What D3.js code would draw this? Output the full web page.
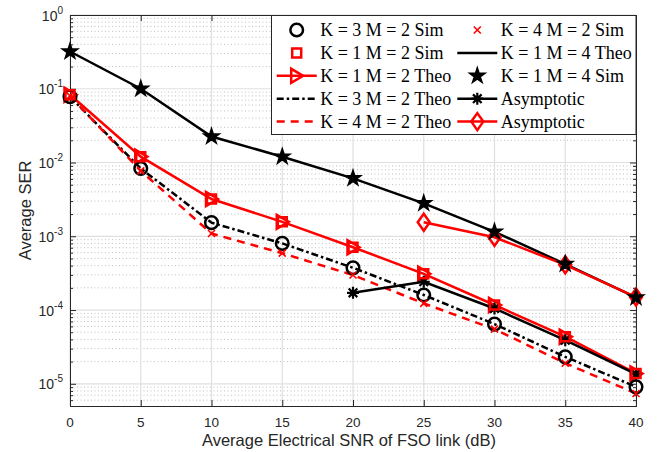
<!DOCTYPE html>
<html>
<head>
<meta charset="utf-8">
<script src="https://cdn.jsdelivr.net/npm/d3@7"></script>
<style>
  body { margin: 0; background: white; overflow: hidden; }
  svg { display: block; }
</style>
</head>
<body>
<div id="plot"></div>
<script>
// data
var snr = [0, 5, 10, 15, 20, 25, 30, 35, 40];
var k1m4Theo = [0.32, 0.10, 0.0225, 0.012, 0.0061, 0.0028, 0.00115, 4.2e-4, 1.48e-4];
var k1m4Sim  = [0.32, 0.10, 0.0225, 0.012, 0.0061, 0.0028, 0.00115, 4.2e-4, 1.48e-4];
var k1m2Theo = [0.083, 0.012, 0.0032, 0.00157, 7.1e-4, 3.1e-4, 1.17e-4, 4.35e-5, 1.38e-5];
var k1m2Sim  = [0.083, 0.012, 0.0032, 0.00157, 7.1e-4, 3.1e-4, 1.17e-4, 4.35e-5, 1.38e-5];
var k3m2Theo = [0.078, 0.0083, 0.00153, 8.0e-4, 3.74e-4, 1.6e-4, 6.45e-5, 2.32e-5, 9.1e-6];
var k3m2Sim  = [0.078, 0.0083, 0.00153, 8.0e-4, 3.74e-4, 1.6e-4, 6.45e-5, 2.32e-5, 9.1e-6];
var k4m2Theo = [0.08, 0.0077, 0.00109, 5.9e-4, 2.98e-4, 1.23e-4, 5.5e-5, 1.9e-5, 7.4e-6];
var k4m2Sim  = [0.08, 0.0077, 0.00109, 5.9e-4, 2.98e-4, 1.23e-4, 5.5e-5, 1.9e-5, 7.4e-6];
var asymBlackSnr = [20, 25, 30, 35, 40];
var asymBlack = [1.71e-4, 2.42e-4, 1.05e-4, 3.9e-5, 1.35e-5];
var asymRedSnr = [25, 30, 35, 40];
var asymRed = [1.55e-3, 9.7e-4, 4.1e-4, 1.5e-4];

var xTicks = [0, 5, 10, 15, 20, 25, 30, 35, 40];
var yExps = [-5, -4, -3, -2, -1, 0];

var w = 658, h = 452;
var margin = {top: 15, right: 22, bottom: 46, left: 70};
var innerWidth = w - margin.left - margin.right;
var innerHeight = h - margin.top - margin.bottom;
var axisColor = "#262626";
var red = "#ff0000";

var xScale = d3.scaleLinear().domain([0, 40]).range([0, innerWidth]);
var yScale = d3.scaleLog().domain([5e-6, 1]).range([innerHeight, 0]);

var svg = d3.select("div#plot").append("svg")
    .attr("width", w)
    .attr("height", h);

svg.append("rect").attr("width", w).attr("height", h).attr("fill", "white");

var g = svg.append("g")
    .attr("transform", `translate(${margin.left},${margin.top})`);

// minor y values
var minorY = [];
for (var e = -6; e <= -1; e++) {
  for (var k = 2; k <= 9; k++) {
    var v = k * Math.pow(10, e);
    if (v >= 5e-6 && v < 1) minorY.push(v);
  }
}
var majorY = yExps.map(e => Math.pow(10, e));

// grid
g.append("g").selectAll("line").data(minorY).enter().append("line")
    .attr("x1", 0).attr("x2", innerWidth)
    .attr("y1", d => yScale(d)).attr("y2", d => yScale(d))
    .attr("stroke", "#b0b0b0").attr("stroke-width", 0.8)
    .attr("stroke-dasharray", "1,2.5");

g.append("g").selectAll("line").data(majorY).enter().append("line")
    .attr("x1", 0).attr("x2", innerWidth)
    .attr("y1", d => yScale(d)).attr("y2", d => yScale(d))
    .attr("stroke", "#e0e0e0").attr("stroke-width", 1.2);

g.append("g").selectAll("line").data(xTicks).enter().append("line")
    .attr("x1", d => xScale(d)).attr("x2", d => xScale(d))
    .attr("y1", 0).attr("y2", innerHeight)
    .attr("stroke", "#e0e0e0").attr("stroke-width", 1.2);

// axes with inward ticks
var xAxisB = d3.axisBottom(xScale).tickValues(xTicks).tickSize(-6).tickFormat("");
var xAxisT = d3.axisTop(xScale).tickValues(xTicks).tickSize(-6).tickFormat("");
var yAxisL = d3.axisLeft(yScale).tickValues(majorY).tickSize(-6).tickFormat("");
var yAxisR = d3.axisRight(yScale).tickValues(majorY).tickSize(-6).tickFormat("");
var yMinL = d3.axisLeft(yScale).tickValues(minorY).tickSize(-3).tickFormat("");
var yMinR = d3.axisRight(yScale).tickValues(minorY).tickSize(-3).tickFormat("");

function styleAxis(sel) {
  sel.selectAll("text").remove();
  sel.selectAll("path").attr("stroke", axisColor).attr("stroke-width", 1);
  sel.selectAll("line").attr("stroke", axisColor);
}
g.append("g").attr("transform", `translate(0,${innerHeight})`).call(xAxisB).call(styleAxis);
g.append("g").call(xAxisT).call(styleAxis);
g.append("g").call(yAxisL).call(styleAxis);
g.append("g").attr("transform", `translate(${innerWidth},0)`).call(yAxisR).call(styleAxis);
g.append("g").call(yMinL).call(styleAxis).select("path").remove();
g.append("g").attr("transform", `translate(${innerWidth},0)`).call(yMinR).call(styleAxis).select("path").remove();

// tick labels
g.append("g").selectAll("text").data(xTicks).enter().append("text")
    .attr("x", d => xScale(d)).attr("y", innerHeight + 21)
    .attr("text-anchor", "middle")
    .attr("font-family", "Liberation Sans, Arial, sans-serif")
    .attr("font-size", "13.5px").attr("fill", axisColor)
    .text(d => d);

var yl = g.append("g").selectAll("text").data(yExps).enter().append("text")
    .attr("x", -7).attr("y", d => yScale(Math.pow(10, d)) + 5.5)
    .attr("text-anchor", "end")
    .attr("font-family", "Liberation Sans, Arial, sans-serif")
    .attr("font-size", "14px").attr("fill", axisColor);
yl.append("tspan").text("10");
yl.append("tspan").attr("dy", -7).attr("font-size", "10px").text(d => d);

// axis titles
svg.append("text")
    .attr("x", 349).attr("y", 446)
    .attr("text-anchor", "middle")
    .attr("font-family", "Liberation Sans, Arial, sans-serif")
    .attr("font-size", "16.5px").attr("fill", axisColor)
    .text("Average Electrical SNR of FSO link (dB)");

svg.append("text")
    .attr("transform", `translate(31,${margin.top + innerHeight / 2}) rotate(-90)`)
    .attr("text-anchor", "middle")
    .attr("font-family", "Liberation Sans, Arial, sans-serif")
    .attr("font-size", "16.5px").attr("fill", axisColor)
    .text("Average SER");

// marker shapes
function markerPath(type) {
  switch (type) {
    case "circle": return d3.symbol(d3.symbolCircle, 125)();
    case "square": return "M-4.5,-4.5L4.5,-4.5L4.5,4.5L-4.5,4.5Z";
    case "tri": return "M6.5,0L-5.5,-7L-5.5,7Z";
    case "diamond": return "M0,-8.5L6,0L0,8.5L-6,0Z";
    case "star": return d3.symbol(d3.symbolStar, 65)();
    case "x": return "M-3.5,-3.5L3.5,3.5M-3.5,3.5L3.5,-3.5";
    case "ast": return "M-6,0L6,0M0,-6L0,6M-4.3,-4.3L4.3,4.3M-4.3,4.3L4.3,-4.3";
  }
}
function markerStyle(sel, type, color) {
  sel.attr("d", markerPath(type));
  if (type === "star") {
    sel.attr("fill", color).attr("stroke", color).attr("stroke-width", 1.8)
        .attr("stroke-linejoin", "miter");
  } else if (type === "x") {
    sel.attr("fill", "none").attr("stroke", color).attr("stroke-width", 1.6);
  } else if (type === "ast") {
    sel.attr("fill", "none").attr("stroke", color).attr("stroke-width", 2.2);
  } else {
    sel.attr("fill", "none").attr("stroke", color).attr("stroke-width", 2.5);
  }
}

var line = d3.line().x(d => xScale(d[0])).y(d => yScale(d[1]));

var series = [
  {xs: snr, ys: k1m4Theo, color: "black", dash: null, marker: null},
  {xs: snr, ys: k3m2Theo, color: "black", dash: "7,3,2.5,3", marker: null},
  {xs: snr, ys: k4m2Theo, color: red, dash: "8,6", marker: null},
  {xs: snr, ys: k1m2Theo, color: red, dash: null, marker: "tri"},
  {xs: asymBlackSnr, ys: asymBlack, color: "black", dash: null, marker: "ast"},
  {xs: asymRedSnr, ys: asymRed, color: red, dash: null, marker: "diamond"}
];
var sims = [
  {xs: snr, ys: k3m2Sim, color: "black", marker: "circle"},
  {xs: snr, ys: k4m2Sim, color: red, marker: "x"},
  {xs: snr, ys: k1m2Sim, color: red, marker: "square"},
  {xs: snr, ys: k1m4Sim, color: "black", marker: "star"}
];

var plotG = g.append("g");
series.forEach(function(s) {
  var pts = s.xs.map((x, i) => [x, s.ys[i]]);
  plotG.append("path").datum(pts)
      .attr("d", line)
      .attr("fill", "none")
      .attr("stroke", s.color)
      .attr("stroke-width", 2.5)
      .attr("stroke-dasharray", s.dash);
  if (s.marker) {
    plotG.append("g").selectAll("path").data(pts).enter().append("path")
        .attr("transform", d => `translate(${xScale(d[0])},${yScale(d[1])})`)
        .call(markerStyle, s.marker, s.color);
  }
});
sims.forEach(function(s) {
  var pts = s.xs.map((x, i) => [x, s.ys[i]]);
  plotG.append("g").selectAll("path").data(pts).enter().append("path")
      .attr("transform", d => `translate(${xScale(d[0])},${yScale(d[1])})`)
      .call(markerStyle, s.marker, s.color);
});

// legend
var legendItems = [
  {label: "K = 3 M = 2 Sim", color: "black", dash: null, line: false, marker: "circle"},
  {label: "K = 4 M = 2 Sim", color: red, dash: null, line: false, marker: "x"},
  {label: "K = 1 M = 2 Sim", color: red, dash: null, line: false, marker: "square"},
  {label: "K = 1 M = 4 Theo", color: "black", dash: null, line: true, marker: null},
  {label: "K = 1 M = 2 Theo", color: red, dash: null, line: true, marker: "tri"},
  {label: "K = 1 M = 4 Sim", color: "black", dash: null, line: false, marker: "star"},
  {label: "K = 3 M = 2 Theo", color: "black", dash: "7,3,2.5,3", line: true, marker: null},
  {label: "Asymptotic", color: "black", dash: null, line: true, marker: "ast"},
  {label: "K = 4 M = 2 Theo", color: red, dash: "8,6", line: true, marker: null},
  {label: "Asymptotic", color: red, dash: null, line: true, marker: "diamond"}
];

var lg = svg.append("g");
lg.append("rect")
    .attr("x", 271.5).attr("y", 15.5)
    .attr("width", 364.5).attr("height", 119)
    .attr("fill", "white").attr("stroke", axisColor).attr("stroke-width", 1);

var colX = [296.7, 477.3];
legendItems.forEach(function(d, i) {
  var cx = colX[i % 2];
  var cy = 30 + Math.floor(i / 2) * 22.9;
  if (d.line) {
    lg.append("line")
        .attr("x1", cx - 20).attr("x2", cx + 20)
        .attr("y1", cy).attr("y2", cy)
        .attr("stroke", d.color).attr("stroke-width", 2.5)
        .attr("stroke-dasharray", d.dash);
  }
  if (d.marker) {
    lg.append("path")
        .attr("transform", `translate(${cx},${cy})`)
        .call(markerStyle, d.marker, d.color);
  }
  lg.append("text")
      .attr("x", cx + 23.5).attr("y", cy + 6)
      .attr("font-family", "Liberation Serif, Times New Roman, serif")
      .attr("font-size", "18px").attr("fill", "black")
      .text(d.label);
});
</script>
</body>
</html>
